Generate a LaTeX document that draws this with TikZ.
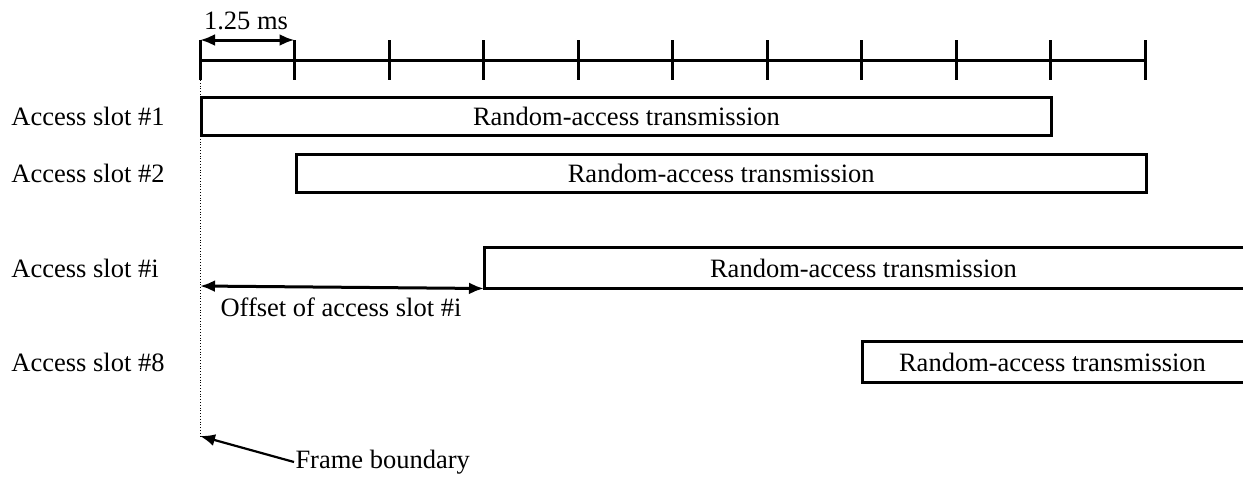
\documentclass[tikz,border=0pt]{standalone}
\usepackage{fontspec}
\setmainfont{Liberation Serif}
\usetikzlibrary{arrows.meta,positioning}

\begin{document}
\begin{tikzpicture}[x=1pt, y=-1pt,
                >={Latex[length=15pt,width=12pt]},
                line width=3pt]
        \tikzset{
                basic/.style  = {font=\fontsize{26.5}{31}\selectfont, inner sep=0pt},
                slotname/.style = {basic, anchor=west},
                slotbox/.style  = {basic, draw, minimum height=38pt, anchor=west},
                openbox/.style  = {basic, minimum height=38pt, anchor=west},
                tick/.style     = {line width=3pt}
        }
        \useasboundingbox (0,0) rectangle (1247,477);

        % time axis with 1.25 ms ticks
        \coordinate (t0) at (200,60);
        \coordinate (tend) at (1145,60);
        \draw (t0) -- (tend);
        \foreach \k in {0,...,10}
        \draw[tick] ({200+94.5*\k},40) -- ({200+94.5*\k},80);

        % one tick length
        \coordinate (a0) at (200,40);
        \coordinate (a1) at (294.5,40);
        \draw[<->] (a0) -- (a1);
        \node[basic] (ms) at (246,21) {1.25 ms};

        % access slot names
        \node[slotname] (s1) at (10,116) {Access slot \#1};
        \node[slotname] (s2) at (10,173) {Access slot \#2};
        \node[slotname] (si) at (10,268) {Access slot \#i};
        \node[slotname] (s8) at (10,362) {Access slot \#8};

        % transmissions, closed boxes
        \node[slotbox, minimum width=850pt] (b1) at (200,116) {Random-access transmission};
        \node[slotbox, minimum width=850.5pt] (b2) at (294.5,173) {Random-access transmission};

        % transmissions running past the right edge
        \node[openbox, minimum width=756pt] (bi) at (484,268) {Random-access transmission};
        \node[openbox, minimum width=378pt] (b8) at (862,362) {Random-access transmission};
        \draw (bi.north east) -- (bi.north west) -- (bi.south west) -- (bi.south east);
        \draw (b8.north east) -- (b8.north west) -- (b8.south west) -- (b8.south east);

        % offset of slot i
        \coordinate (o0) at (200,286);
        \draw[<->] (o0) -- (bi.south west);
        \node[basic] (off) at (341,307) {Offset of access slot \#i};

        % frame boundary
        \coordinate (f0) at (200,80);
        \coordinate (f1) at (200,436);
        \draw[dotted, line width=0.8pt] (f0) -- (f1);
        \node[basic, anchor=west] (fb) at (294,462) {Frame boundary};
        \draw[->, line width=2.2pt] (fb.west) -- (f1);
\end{tikzpicture}
\end{document}
